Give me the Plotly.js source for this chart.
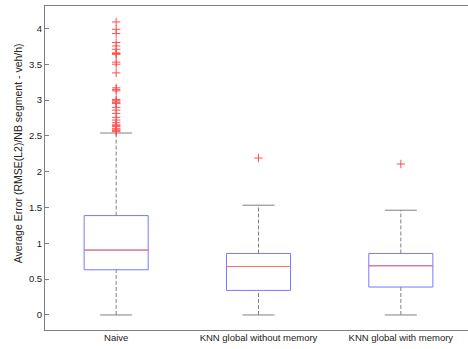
<!DOCTYPE html>
<html>
<head>
<meta charset="utf-8">
<script src="https://cdn.plot.ly/plotly-3.0.1.min.js"></script>
<style>
html,body{margin:0;padding:0;overflow:hidden;background:#fff;}
#chart{width:472px;height:349px;}
</style>
</head>
<body>
<div id="chart"></div>
<script>
// ---- data ----
const categories = ['Naive', 'KNN global without memory', 'KNN global with memory'];
const positions = [1, 2, 3];
const q1 = [0.631, 0.343, 0.390];
const medians = [0.906, 0.677, 0.687];
const q3 = [1.388, 0.859, 0.859];
const lowerWhisker = [0, 0, 0];
const upperWhisker = [2.541, 1.533, 1.463];
const naiveOutliers = [4.092, 3.990, 3.930, 3.805, 3.757, 3.711, 3.660, 3.652, 3.640,
  3.531, 3.502, 3.381, 3.172, 3.150, 3.130, 3.010, 2.998, 2.975, 2.963, 2.955, 2.899,
  2.861, 2.815, 2.760, 2.722, 2.685, 2.655, 2.643, 2.630, 2.601, 2.585, 2.573, 2.560];
const knnNoMemoryOutliers = [2.192];
const knnMemoryOutliers = [2.108];
const yTicks = [0, 0.5, 1, 1.5, 2, 2.5, 3, 3.5, 4];
const yTickText = ['0', '0.5', '1', '1.5', '2', '2.5', '3', '3.5', '4'];

// ---- styles ----
const boxHalf = 0.225;
const capHalf = 0.1125;
const blue = 'rgb(120,120,255)';
const red = 'rgb(255,110,110)';
const grey = 'rgb(128,128,128)';
const font = 'Liberation Sans, Arial, Helvetica, sans-serif';

const traces = [];

// boxes (blue)
positions.forEach((p, i) => {
  traces.push({
    type: 'box',
    x: [p],
    q1: [q1[i]], median: [medians[i]], q3: [q3[i]],
    lowerfence: [q1[i]], upperfence: [q3[i]],
    width: 2 * boxHalf,
    whiskerwidth: 0,
    fillcolor: 'rgba(0,0,0,0)',
    line: {color: blue, width: 1},
    boxpoints: false,
    hoverinfo: 'skip',
    showlegend: false
  });
});

// dashed whiskers
const wx = [], wy = [];
positions.forEach((p, i) => {
  wx.push(p, p, null, p, p, null);
  wy.push(q3[i], upperWhisker[i], null, lowerWhisker[i], q1[i], null);
});
traces.push({type: 'scatter', mode: 'lines', x: wx, y: wy,
  line: {color: grey, width: 1, dash: '4px,2px'}, hoverinfo: 'skip', showlegend: false});

// whisker caps
const cx = [], cy = [];
positions.forEach((p, i) => {
  cx.push(p - capHalf, p + capHalf, null, p - capHalf, p + capHalf, null);
  cy.push(upperWhisker[i], upperWhisker[i], null, lowerWhisker[i], lowerWhisker[i], null);
});
traces.push({type: 'scatter', mode: 'lines', x: cx, y: cy,
  line: {color: grey, width: 1}, hoverinfo: 'skip', showlegend: false});

// medians (red)
const mx = [], my = [];
positions.forEach((p, i) => {
  mx.push(p - boxHalf, p + boxHalf, null);
  my.push(medians[i], medians[i], null);
});
traces.push({type: 'scatter', mode: 'lines', x: mx, y: my,
  line: {color: red, width: 1}, hoverinfo: 'skip', showlegend: false});

// outliers
const outlierSets = [naiveOutliers, knnNoMemoryOutliers, knnMemoryOutliers];
const ox = [], oy = [];
outlierSets.forEach((set, i) => set.forEach(v => { ox.push(positions[i]); oy.push(v); }));
traces.push({type: 'scatter', mode: 'markers', x: ox, y: oy,
  marker: {symbol: 'cross-thin-open', size: 6, color: 'rgb(255,80,80)',
           line: {color: 'rgb(255,80,80)', width: 1}},
  hoverinfo: 'skip', showlegend: false});

const layout = {
  width: 472, height: 349,
  margin: {l: 45, r: 0, t: 6, b: 19},
  paper_bgcolor: '#fff', plot_bgcolor: '#fff',
  font: {family: font, size: 9.5, color: '#222'},
  showlegend: false,
  xaxis: {
    range: [0.5, 3.5], tickvals: positions, ticktext: categories,
    ticks: '', showgrid: false, zeroline: false,
    showline: true, linecolor: grey, linewidth: 1, mirror: true,
    tickfont: {family: font, size: 9.5, color: '#222'}, ticklabelstandoff: -1
  },
  yaxis: {
    range: [-0.21, 4.315], tickvals: yTicks, ticktext: yTickText,
    ticks: 'inside', ticklen: 4, tickcolor: grey, tickwidth: 1,
    showgrid: false, zeroline: false,
    showline: true, linecolor: grey, linewidth: 1, mirror: 'ticks',
    tickfont: {family: font, size: 9.5, color: '#222'}
  },
  annotations: [{
    text: 'Average Error (RMSE(L2)/NB segment - veh/h)',
    xref: 'paper', yref: 'paper', x: -0.063, y: 0.546,
    xanchor: 'center', yanchor: 'middle', textangle: -90, showarrow: false,
    font: {family: font, size: 10.5, color: '#222'}
  }]
};

Plotly.newPlot('chart', traces, layout, {staticPlot: true, displayModeBar: false});
</script>
</body>
</html>
